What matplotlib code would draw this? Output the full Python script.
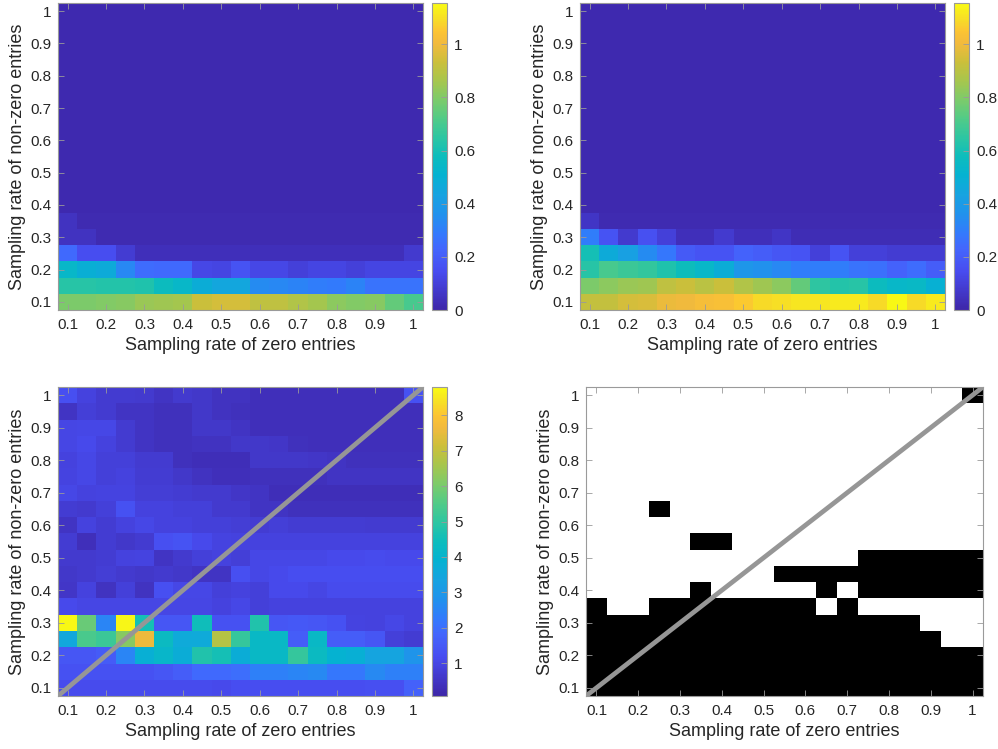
import numpy as np
import matplotlib
matplotlib.use('Agg')
import matplotlib.pyplot as plt
from matplotlib.colors import LinearSegmentedColormap, ListedColormap

plt.rcParams['font.family'] = ['Liberation Sans', 'DejaVu Sans']

# --- data ---------------------

rates = [0.1, 0.15, 0.2, 0.25, 0.3, 0.35, 0.4, 0.45, 0.5, 0.55,
         0.6, 0.65, 0.7, 0.75, 0.8, 0.85, 0.9, 0.95, 1.0]
tick_vals = [0.1, 0.2, 0.3, 0.4, 0.5, 0.6, 0.7, 0.8, 0.9, 1.0]
tick_labels = ['0.1', '0.2', '0.3', '0.4', '0.5', '0.6', '0.7', '0.8', '0.9', '1']

# top-left: rows from non-zero rate 0.1 upwards, upper rows are flat
tl_rows = [
    [0.79, 0.79, 0.80, 0.81, 0.84, 0.85, 0.86, 0.93, 0.95, 0.95, 0.91, 0.91, 0.88, 0.86, 0.82, 0.80, 0.81, 0.75, 0.70],
    [0.64, 0.64, 0.63, 0.63, 0.62, 0.57, 0.54, 0.48, 0.45, 0.45, 0.34, 0.33, 0.32, 0.30, 0.29, 0.32, 0.27, 0.27, 0.27],
    [0.54, 0.49, 0.47, 0.33, 0.25, 0.24, 0.24, 0.13, 0.12, 0.17, 0.13, 0.13, 0.10, 0.12, 0.12, 0.10, 0.12, 0.12, 0.12],
    [0.24, 0.15, 0.15, 0.09, 0.04, 0.04, 0.04, 0.04, 0.04, 0.04, 0.04, 0.04, 0.04, 0.04, 0.04, 0.04, 0.04, 0.04, 0.08],
    [0.05, 0.05, 0.02, 0.02, 0.02, 0.02, 0.02, 0.02, 0.02, 0.02, 0.02, 0.02, 0.02, 0.02, 0.02, 0.02, 0.02, 0.02, 0.02],
    [0.05, 0.02, 0.02, 0.02, 0.02, 0.02, 0.02, 0.02, 0.02, 0.02, 0.02, 0.02, 0.02, 0.02, 0.02, 0.02, 0.02, 0.02, 0.02],
]
tl_background = 0.015

tr_rows = [
    [0.92, 0.92, 0.95, 0.96, 0.99, 1.00, 1.02, 1.03, 1.06, 1.09, 1.10, 1.11, 1.11, 1.12, 1.12, 1.09, 1.15, 1.09, 1.12],
    [0.79, 0.82, 0.84, 0.85, 0.91, 0.93, 0.90, 0.93, 0.88, 0.85, 0.82, 0.75, 0.65, 0.63, 0.64, 0.57, 0.54, 0.55, 0.50],
    [0.64, 0.70, 0.68, 0.66, 0.62, 0.58, 0.54, 0.48, 0.38, 0.36, 0.33, 0.30, 0.30, 0.30, 0.27, 0.26, 0.22, 0.25, 0.20],
    [0.60, 0.47, 0.42, 0.34, 0.28, 0.19, 0.17, 0.17, 0.22, 0.20, 0.18, 0.17, 0.10, 0.17, 0.10, 0.10, 0.09, 0.09, 0.09],
    [0.30, 0.17, 0.08, 0.16, 0.10, 0.04, 0.04, 0.08, 0.04, 0.04, 0.06, 0.03, 0.03, 0.03, 0.03, 0.03, 0.03, 0.03, 0.03],
    [0.06, 0.02, 0.02, 0.02, 0.02, 0.02, 0.02, 0.02, 0.02, 0.02, 0.02, 0.02, 0.02, 0.02, 0.02, 0.02, 0.02, 0.02, 0.02],
]
tr_background = 0.015

# bottom-left: all 19 rows, non-zero rate 0.1 first
bl_rows = [
    [1.15, 1.15, 1.15, 1.15, 1.15, 1.15, 1.15, 1.15, 1.10, 1.20, 1.20, 1.20, 1.20, 1.20, 1.20, 1.20, 1.25, 1.25, 1.70],
    [1.30, 1.30, 1.30, 1.30, 1.30, 1.40, 1.60, 1.90, 1.90, 2.00, 2.40, 2.40, 2.50, 2.60, 2.20, 2.20, 2.60, 2.40, 2.40],
    [1.40, 1.40, 1.55, 2.50, 3.80, 4.10, 3.70, 4.80, 4.60, 3.70, 4.20, 4.20, 5.10, 4.30, 3.90, 3.80, 3.40, 3.40, 2.90],
    [3.50, 5.40, 5.20, 6.20, 7.60, 4.30, 3.60, 3.60, 6.80, 5.10, 4.20, 4.20, 1.60, 4.20, 1.60, 1.60, 1.40, 0.85, 0.75],
    [8.75, 5.80, 2.50, 8.70, 4.60, 1.40, 1.40, 4.50, 1.30, 1.30, 4.80, 1.40, 1.50, 1.40, 1.30, 0.95, 0.90, 1.05, 0.90],
    [1.10, 1.00, 1.00, 1.00, 1.00, 1.00, 1.00, 1.00, 0.90, 1.05, 0.85, 0.90, 0.90, 0.90, 0.90, 0.90, 0.90, 0.90, 0.90],
    [0.58, 0.90, 0.45, 0.85, 0.45, 1.25, 1.05, 1.05, 0.85, 0.90, 0.85, 1.10, 1.10, 1.00, 1.15, 1.15, 1.15, 1.15, 1.15],
    [0.60, 0.68, 0.78, 0.68, 0.60, 0.65, 0.60, 0.50, 0.50, 1.25, 1.05, 1.10, 1.20, 1.20, 1.20, 1.20, 1.20, 1.20, 1.20],
    [0.65, 0.65, 0.75, 0.90, 0.95, 0.50, 0.65, 0.85, 0.90, 0.80, 1.05, 1.05, 1.05, 1.05, 1.10, 1.10, 1.15, 1.10, 1.10],
    [0.75, 0.35, 0.75, 0.60, 0.70, 1.25, 1.35, 1.10, 0.95, 0.90, 0.90, 0.90, 0.90, 0.90, 0.90, 0.90, 0.90, 0.90, 0.90],
    [0.50, 0.90, 0.75, 0.90, 1.05, 0.90, 0.90, 0.85, 0.85, 0.78, 0.75, 0.80, 0.75, 0.75, 0.75, 0.75, 0.70, 0.70, 0.70],
    [0.75, 0.65, 0.85, 1.30, 0.90, 0.90, 0.85, 0.85, 0.68, 0.68, 0.50, 0.48, 0.38, 0.40, 0.40, 0.40, 0.40, 0.40, 0.40],
    [1.05, 0.90, 0.95, 0.95, 0.78, 0.78, 0.75, 0.68, 0.65, 0.55, 0.50, 0.32, 0.32, 0.32, 0.32, 0.32, 0.32, 0.32, 0.32],
    [0.95, 1.05, 0.85, 0.90, 0.75, 0.75, 0.60, 0.45, 0.35, 0.35, 0.40, 0.38, 0.38, 0.38, 0.48, 0.50, 0.50, 0.50, 0.50],
    [0.90, 1.05, 0.85, 0.85, 0.70, 0.70, 0.40, 0.32, 0.32, 0.32, 0.60, 0.60, 0.60, 0.58, 0.50, 0.40, 0.40, 0.40, 0.40],
    [1.00, 1.10, 0.90, 0.70, 0.50, 0.38, 0.38, 0.45, 0.45, 0.60, 0.60, 0.55, 0.40, 0.35, 0.35, 0.35, 0.35, 0.35, 0.35],
    [1.00, 1.05, 1.05, 0.70, 0.50, 0.40, 0.40, 0.60, 0.60, 0.50, 0.35, 0.35, 0.35, 0.35, 0.35, 0.35, 0.35, 0.35, 0.35],
    [0.50, 0.80, 0.70, 0.50, 0.50, 0.40, 0.40, 0.60, 0.45, 0.40, 0.35, 0.35, 0.35, 0.35, 0.35, 0.35, 0.35, 0.35, 0.35],
    [1.25, 0.90, 0.70, 0.70, 0.65, 0.50, 0.65, 0.60, 0.45, 0.45, 0.35, 0.35, 0.35, 0.35, 0.35, 0.35, 0.35, 0.35, 1.30],
]

# bottom-right: 1 = black, rows from non-zero rate 0.1 upwards
br_rows = [
    '1111111111111111111',
    '1111111111111111111',
    '1111111111111111111',
    '1111111111111111100',
    '1111111111111111000',
    '1001111111101000000',
    '0000010000010111111',
    '0000000001111111111',
    '0000000000000111111',
    '0000011000000000000',
    '0000000000000000000',
    '0001000000000000000',
    '0000000000000000000',
    '0000000000000000000',
    '0000000000000000000',
    '0000000000000000000',
    '0000000000000000000',
    '0000000000000000000',
    '0000000000000000001',
]

# --- colormap (parula-like) ---------------------

parula_pts = [
    (0.000, (0.2422, 0.1504, 0.6603)),
    (0.125, (0.2813, 0.2985, 0.9397)),
    (0.200, (0.2650, 0.4030, 0.9935)),
    (0.250, (0.2000, 0.4800, 0.9900)),
    (0.310, (0.1300, 0.5700, 0.9300)),
    (0.375, (0.0900, 0.6400, 0.8800)),
    (0.440, (0.0200, 0.7000, 0.8200)),
    (0.500, (0.0500, 0.7400, 0.7400)),
    (0.560, (0.1700, 0.7750, 0.6400)),
    (0.625, (0.3200, 0.7950, 0.5300)),
    (0.690, (0.5000, 0.7950, 0.4100)),
    (0.750, (0.6600, 0.7750, 0.3000)),
    (0.810, (0.8000, 0.7500, 0.2300)),
    (0.870, (0.9500, 0.7300, 0.2400)),
    (0.910, (0.9900, 0.7700, 0.2000)),
    (0.950, (0.9700, 0.8700, 0.1500)),
    (1.000, (0.9769, 0.9839, 0.0805)),
]
parula = LinearSegmentedColormap.from_list('parula', parula_pts, N=256)
bw = ListedColormap(['white', 'black'])

def full_grid(rows, background):
	grid = np.full((len(rates), len(rates)), background)
	grid[:len(rows), :] = np.array(rows)
	return grid

tl = full_grid(tl_rows, tl_background)
tr = full_grid(tr_rows, tr_background)
bl = np.array(bl_rows)
br = np.array([[int(c) for c in r] for r in br_rows])

half = (rates[1] - rates[0]) / 2
ext = [rates[0] - half, rates[-1] + half, rates[0] - half, rates[-1] + half]

frame_col = '#9a9a9a'
text_col = '#262626'
diag_col = '#969696'

def style(ax):
	ax.set_xlim(ext[0], ext[1])
	ax.set_ylim(ext[2], ext[3])
	ax.set_xticks(tick_vals)
	ax.set_xticklabels(tick_labels)
	ax.set_yticks(tick_vals)
	ax.set_yticklabels(tick_labels)
	ax.tick_params(direction = 'in', length = 4, width = 0.6,
		top = True, right = True, labelsize = 11,
		colors = frame_col, labelcolor = text_col, pad = 5)
	ax.tick_params(axis = 'x', pad = 6)
	for s in ax.spines.values():
		s.set_color(frame_col)
		s.set_linewidth(0.8)
	ax.set_xlabel('Sampling rate of zero entries', fontsize = 13, color = text_col, labelpad = 3)
	ax.set_ylabel('Sampling rate of non-zero entries', fontsize = 13, color = text_col, labelpad = 3)

def cbar(fig, im, rect, ticks, labels):
	cax = fig.add_axes(rect)
	cb = fig.colorbar(im, cax = cax, ticks = ticks)
	cb.ax.set_yticklabels(labels)
	cb.ax.tick_params(direction = 'in', length = 4, width = 0.6, labelsize = 11,
		colors = frame_col, labelcolor = text_col, pad = 5)
	cb.outline.set_edgecolor(frame_col)
	cb.outline.set_linewidth(0.8)

W, H = 998, 749
fig = plt.figure(figsize = (W / 100, H / 100), dpi = 100)

def rect(x0, y0, x1, y1):
	return [x0 / W, 1 - y1 / H, (x1 - x0) / W, (y1 - y0) / H]

# top-left
ax = fig.add_axes(rect(58, 3, 423, 310))
im = ax.imshow(tl, extent = ext, origin = 'lower', aspect = 'auto',
	interpolation = 'nearest', cmap = parula, vmin = 0, vmax = 1.155)
style(ax)
cbar(fig, im, rect(432, 3, 447, 310), [0, 0.2, 0.4, 0.6, 0.8, 1.0],
	['0', '0.2', '0.4', '0.6', '0.8', '1'])

# top-right
ax = fig.add_axes(rect(580, 3, 945, 310))
im = ax.imshow(tr, extent = ext, origin = 'lower', aspect = 'auto',
	interpolation = 'nearest', cmap = parula, vmin = 0, vmax = 1.155)
style(ax)
cbar(fig, im, rect(954, 3, 969, 310), [0, 0.2, 0.4, 0.6, 0.8, 1.0],
	['0', '0.2', '0.4', '0.6', '0.8', '1'])

# bottom-left
ax = fig.add_axes(rect(58, 387, 423, 696))
im = ax.imshow(bl, extent = ext, origin = 'lower', aspect = 'auto',
	interpolation = 'nearest', cmap = parula, vmin = 0.07, vmax = 8.8)
ax.plot([ext[0], ext[1]], [ext[2], ext[3]], color = diag_col, lw = 3.4, solid_capstyle = 'butt')
style(ax)
cbar(fig, im, rect(432, 387, 447, 696), [1, 2, 3, 4, 5, 6, 7, 8],
	['1', '2', '3', '4', '5', '6', '7', '8'])

# bottom-right
ax = fig.add_axes(rect(586, 387, 983, 696))
ax.imshow(br, extent = ext, origin = 'lower', aspect = 'auto',
	interpolation = 'nearest', cmap = bw, vmin = 0, vmax = 1)
ax.plot([ext[0], ext[1]], [ext[2], ext[3]], color = diag_col, lw = 3.4, solid_capstyle = 'butt')
style(ax)

fig.savefig('out.png', dpi = 100)
plt.close()
